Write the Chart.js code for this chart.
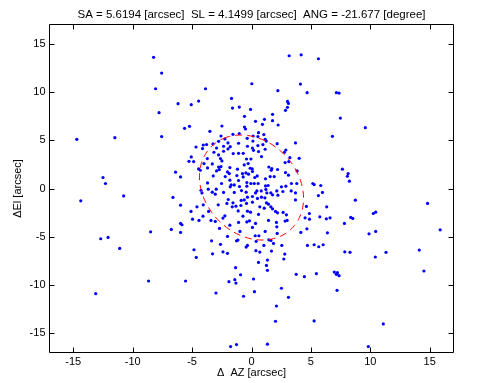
<!DOCTYPE html>
<html><head><meta charset="utf-8">
<script src="https://cdn.jsdelivr.net/npm/chart.js@4"></script>
<style>html,body{margin:0;padding:0;background:#fff;}#wrap{width:477px;height:383px;}canvas{display:block;}</style>
</head><body>
<div id="wrap"><canvas id="c" width="477" height="383"></canvas></div>
<script>
// Fit parameters shown in the title
const SA = 5.6194, SL = 4.1499, ANG = -21.677;
const ellipseCenter = [0, 0.1];
const tickValues = [-15, -10, -5, 0, 5, 10, 15];
const axisRange = [-17, 17];

// [ΔAZ, ΔEl] offsets in arcsec, by region
const upperLeftOuter = [[-8.24,13.6],[-7.56,11.96],[-8.07,10.34],[-3.87,10.34],[0.03,10.86],[-6.18,8.79],[-5.07,8.69],[-4.45,9.06],[-1.68,9.34],[-7.78,7.86],[-1.03,8.44],[-0.08,8.2],[-1.6,8.34],[-0.59,7.48],[-5.63,6.24],[-14.7,5.1],[-11.5,5.27],[-7.56,5.38],[-12.5,1.14],[-6.39,1.69],[-5.97,1.2],[-4.87,2.79]];
const upperRightOuter = [[3.17,13.76],[4.18,13.86],[5.63,13.45],[4.12,10.82],[2.22,10.14],[4.68,9.93],[7.14,9.93],[7.37,9.89],[3.03,9.03],[3.11,8.82],[3.03,8.41],[2.86,8.1],[1.77,7.69],[1.09,7.17],[7.48,7.3],[9.58,6.31],[1.77,7.03],[6.81,5.41],[7.65,2.0],[8.13,1.55],[8.07,1.27]];
const coreUpperLeft = [[-5.22,6.44],[-2.49,6.48],[-0.59,6.37],[-0.5,6.17],[-3.5,5.93],[-1.56,5.62],[-1.03,5.69],[-2.57,5.44],[0.14,5.44],[-2.24,5.13],[-0.36,5.2],[-2.77,4.89],[0.12,4.92],[-1.98,4.72],[-1.09,4.69],[-4.06,4.51],[-3.78,4.55],[-3.24,4.62],[-4.67,4.3],[-2.35,4.38],[-1.79,4.34],[-1.98,4.1],[-0.34,4.38],[-2.94,4.2],[-4.12,4.14],[0.08,4.2],[0.17,3.96],[-3.16,3.76],[-2.35,3.86],[-1.54,3.62],[-1.09,3.65],[-0.7,3.65],[-5.07,3.27],[-2.77,3.48],[-3.72,3.1],[-2.61,3.1],[-2.49,2.86],[-0.42,3.06],[-5.26,2.82],[-4.0,2.58],[-3.3,2.55],[-0.05,3.06],[-4.45,2.03],[-4.31,1.89],[-3.7,2.13],[-2.77,2.23],[-2.57,2.27],[-1.82,2.17],[-0.61,2.44],[-0.28,2.58],[-1.18,2.0],[-0.11,2.1],[0.06,2.03],[-2.94,1.82],[-2.71,1.96],[-2.02,1.72],[-1.87,1.55],[-0.76,1.55],[-0.47,1.61],[0.08,1.76],[-1.23,1.34],[-0.25,1.48],[-3.22,1.3],[-2.21,1.24],[-0.7,1.2],[-3.7,0.58],[-2.52,0.52],[-1.82,0.86],[-1.09,0.83],[-1.71,0.37],[-1.45,0.37],[-0.39,0.62],[-0.05,0.52],[0.23,0.52],[-1.01,0.2],[-1.79,0.17],[-0.39,0.24]];
const coreUpperRight = [[0.34,6.96],[0.92,6.65],[2.24,6.58],[0.59,5.79],[0.54,5.38],[1.04,5.59],[1.15,5.1],[1.24,4.92],[2.16,4.65],[3.7,4.72],[0.54,4.45],[0.96,4.55],[1.15,4.07],[2.89,3.99],[2.77,3.76],[0.59,3.83],[0.84,3.31],[3.23,3.2],[4.01,3.13],[2.83,2.69],[3.14,2.79],[1.46,2.23],[1.71,2.07],[1.66,1.89],[2.19,1.97],[3.84,1.82],[2.86,1.65],[3.11,1.38],[1.91,1.24],[0.48,1.3],[0.28,1.14],[1.57,1.24],[1.18,1.0],[0.56,0.52],[1.18,0.27],[1.4,0.31],[3.36,0.52],[3.81,0.52],[5.16,0.52],[5.27,0.41],[5.83,0.31],[2.52,0.17],[2.89,0.24]];
const coreLowerLeft = [[-4.25,-0.18],[-4.17,-0.46],[-3.64,-0.07],[-2.97,-0.07],[-3.3,-0.38],[-3.05,-0.59],[-2.35,-0.41],[-1.45,-0.41],[-0.84,-0.21],[-0.45,-0.38],[-0.34,-0.9],[0.08,-0.83],[-1.96,-1.14],[-2.07,-1.55],[-0.87,-1.24],[-0.61,-1.18],[-1.56,-1.49],[-1.31,-1.83],[-1.62,-1.9],[-0.89,-1.76],[-0.42,-1.55],[-2.8,-1.69],[-4.06,-1.69],[0.08,-1.42],[-4.59,-1.9],[-5.09,-2.38],[-3.61,-2.38],[-1.12,-2.32],[-0.34,-2.35],[-0.08,-2.45],[-0.72,-2.87],[-2.24,-2.83],[-2.4,-3.07],[-4.08,-2.87],[-4.96,-3.18],[-4.42,-3.31],[-3.05,-3.41],[-3.41,-3.31],[-1.09,-3.52],[-0.39,-3.46],[-0.17,-3.35],[-2.69,-4.14],[-1.82,-3.8],[-0.97,-4.45],[0.08,-4.03],[-2.02,-4.97],[-1.14,-5.35],[-1.26,-5.42],[-3.36,-5.42],[-0.45,-6.07],[-0.34,-5.9],[-2.61,-5.79],[-4.84,-6.35],[-2.4,-6.56],[-2.02,-6.72],[-3.28,-6.77],[-4.65,-7.14]];
const coreLowerRight = [[0.45,-0.25],[0.34,-0.46],[0.82,-0.25],[1.21,-0.1],[1.29,-0.46],[1.63,-0.46],[1.77,-0.66],[2.13,-0.25],[2.22,-0.69],[2.64,-0.31],[3.34,-0.25],[3.7,-0.46],[3.7,-1.18],[5.63,-0.73],[5.97,-0.41],[0.5,-1.03],[0.84,-0.9],[1.13,-0.97],[1.26,-1.49],[1.43,-1.62],[0.7,-1.9],[1.07,-2.04],[1.63,-1.9],[1.77,-2.11],[2.02,-2.38],[2.19,-2.52],[0.59,-2.69],[2.66,-2.48],[2.94,-2.73],[4.51,-3.04],[4.88,-3.18],[5.75,-2.94],[1.43,-3.31],[2.1,-3.52],[2.83,-3.38],[3.0,-3.31],[0.34,-3.62],[2.13,-3.97],[4.66,-4.18],[1.15,-4.45],[2.16,-4.66],[4.15,-4.55],[0.31,-4.9],[0.62,-4.9],[0.39,-5.48],[1.46,-5.32],[1.63,-5.38],[1.04,-5.9],[1.85,-5.69],[2.55,-5.9],[4.71,-5.9],[5.27,-5.83],[5.66,-6.04],[6.03,-5.83],[0.37,-6.45],[0.7,-6.59],[1.68,-6.49],[2.8,-6.8]];
const lowerLeftOuter = [[-12.29,0.52],[-10.76,-0.77],[-14.37,-1.28],[-6.61,-0.93],[-5.97,-1.73],[-5.97,-3.62],[-5.85,-3.76],[-8.49,-4.49],[-6.75,-4.24],[-5.97,-4.55],[-12.69,-5.21],[-12.07,-5.07],[-11.09,-6.21],[-8.66,-9.59],[-5.55,-9.59],[-13.11,-10.9],[-2.99,-10.83],[-1.34,-8.21],[-0.92,-8.94],[-1.4,-9.45],[-1.31,-9.8],[-1.9,-9.66],[0.17,-9.38],[-0.67,-11.17],[0.25,-10.7],[-1.76,-16.39],[-1.26,-16.18],[0.59,-7.66]];
const lowerRightOuter = [[8.24,0.76],[14.82,-1.55],[15.88,-4.28],[8.74,-1.21],[10.25,-2.59],[10.45,-2.45],[8.35,-3.0],[8.52,-3.1],[7.82,-3.62],[9.89,-4.7],[10.45,-4.45],[14.12,-6.38],[11.32,-6.62],[10.42,-7.1],[8.29,-6.62],[7.85,-6.56],[14.51,-8.55],[6.97,-8.66],[7.14,-8.9],[7.37,-9.04],[7.23,-8.73],[7.2,-10.55],[11.09,-14.04],[9.83,-16.39],[5.46,-8.83],[4.45,-9.14],[3.76,-8.9],[2.52,-10.34],[3.11,-11.28],[2.1,-12.18],[2.02,-13.76],[5.27,-13.73],[1.34,-16.14],[1.34,-7.42],[1.26,-7.97],[1.34,-8.48],[2.72,-7.31],[6.3,-3.14],[6.61,-3.04],[6.39,-4.59],[4.62,-1.86],[4.87,-2.59],[6.33,-1.9]];

const offsets = [].concat(upperLeftOuter, upperRightOuter, coreUpperLeft, coreUpperRight,
  coreLowerLeft, coreLowerRight, lowerLeftOuter, lowerRightOuter);
const scatterData = offsets.map(([az, el]) => ({x: az, y: el}));

// Error ellipse traced from the fitted parameters (semi-axes SA, SL, angle ANG)
const ellipseData = [];
{
  const th = (90 - ANG) * Math.PI / 180;
  for (let d = 0; d <= 360; d += 3) {
    const t = d * Math.PI / 180;
    const a = SA * Math.cos(t), b = SL * Math.sin(t);
    ellipseData.push({
      x: ellipseCenter[0] + a * Math.cos(th) - b * Math.sin(th),
      y: ellipseCenter[1] + a * Math.sin(th) + b * Math.cos(th)
    });
  }
}

const FONT = "'Liberation Sans', Arial, Helvetica, sans-serif";
const TICK_LEN = 5;

const framePlugin = {
  id: 'frame',
  beforeDatasetsDraw(chart) {
    const {ctx, chartArea: a, scales: {x, y}} = chart;
    ctx.save();
    ctx.strokeStyle = '#000';
    ctx.lineWidth = 1;
    ctx.beginPath();
    ctx.rect(a.left, a.top, a.right - a.left, a.bottom - a.top);
    tickValues.forEach(v => {
      const px = Math.round(x.getPixelForValue(v)) + 0.5;
      ctx.moveTo(px, a.bottom); ctx.lineTo(px, a.bottom - TICK_LEN);
      ctx.moveTo(px, a.top); ctx.lineTo(px, a.top + TICK_LEN);
      const py = Math.round(y.getPixelForValue(v)) + 0.5;
      ctx.moveTo(a.left, py); ctx.lineTo(a.left + TICK_LEN, py);
      ctx.moveTo(a.right, py); ctx.lineTo(a.right - TICK_LEN, py);
    });
    ctx.stroke();
    ctx.restore();
  }
};

const setTicks = scale => { scale.ticks = tickValues.map(v => ({value: v})); };

new Chart(document.getElementById('c'), {
  type: 'scatter',
  data: {
    datasets: [
      {
        type: 'line', data: ellipseData, borderColor: '#ff0000', borderWidth: 1,
        borderDash: [7, 5], pointRadius: 0, fill: false, tension: 0
      },
      {
        data: scatterData, pointRadius: 1.6, pointStyle: 'circle',
        pointBackgroundColor: '#0000ff', pointBorderWidth: 0, borderWidth: 0
      }
    ]
  },
  options: {
    responsive: false, animation: false, devicePixelRatio: 1,
    layout: {padding: {top: 0, right: 23.5, left: 0, bottom: 0}},
    plugins: {
      legend: {display: false}, tooltip: {enabled: false},
      title: {
        display: true, fullSize: false,
        text: 'SA = 5.6194 [arcsec]  SL = 4.1499 [arcsec]  ANG = -21.677 [degree]',
        color: '#000', font: {family: FONT, size: 11.5, weight: 'normal', lineHeight: 1.2},
        padding: {top: 8, bottom: 2.7}
      }
    },
    scales: {
      x: {
        type: 'linear', min: axisRange[0], max: axisRange[1],
        afterBuildTicks: setTicks,
        afterFit: s => { s.height = 30.5; },
        grid: {display: false, drawTicks: false}, border: {display: false},
        ticks: {color: '#000', font: {family: FONT, size: 11}, padding: 3, maxRotation: 0, autoSkip: false},
        title: {display: true, text: 'Δ  AZ [arcsec]', color: '#000', font: {family: FONT, size: 11}, padding: {top: 0, bottom: 3.5}}
      },
      y: {
        type: 'linear', min: axisRange[0], max: axisRange[1],
        afterBuildTicks: setTicks,
        afterFit: s => { s.width = 49.5; },
        grid: {display: false, drawTicks: false}, border: {display: false},
        ticks: {color: '#000', font: {family: FONT, size: 11}, padding: 4, autoSkip: false},
        title: {display: true, text: 'ΔEl [arcsec]', color: '#000', font: {family: FONT, size: 11}, padding: {top: 11, bottom: 0}}
      }
    }
  },
  plugins: [framePlugin]
});
</script>
</body></html>
